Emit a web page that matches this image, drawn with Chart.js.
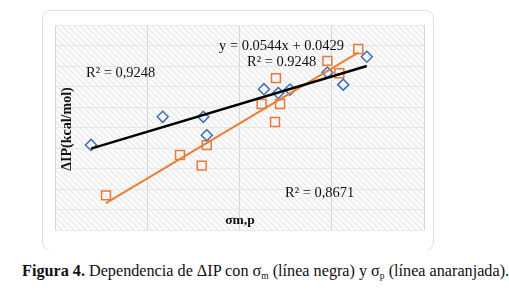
<!DOCTYPE html>
<html>
<head>
<meta charset="utf-8">
<script src="https://cdn.jsdelivr.net/npm/chart.js@4.4.1/dist/chart.umd.min.js"></script>
<style>
  body { margin: 0; background: #fff; width: 509px; height: 292px; overflow: hidden; position: relative; }
  #wrap { position: absolute; left: 0; top: 0; width: 509px; height: 250px; }
  #caption { position: absolute; left: 22px; top: 262px; font-family: "Liberation Serif", "DejaVu Serif", serif; font-size: 16.2px; color: #111; white-space: nowrap; }
  #caption sub { font-size: 9.5px; vertical-align: -3px; }
</style>
</head>
<body>
<div id="wrap"><canvas id="chartOne"></canvas></div>
<div id="caption"><b>Figura 4.</b> Dependencia de ΔIP con σ<sub>m</sub> (línea negra) y σ<sub>p</sub> (línea anaranjada).</div>
<script>
// sigma m (rombos azules)
let sigmaM = [-0.244, 0.067, 0.243, 0.258, 0.506, 0.568, 0.619, 0.781, 0.850, 0.952];
let ipM = [4.15, 5.52, 5.52, 4.62, 6.87, 6.68, 6.85, 7.68, 7.09, 8.45];
// sigma p (cuadrados naranjas)
let sigmaP = [-0.179, 0.142, 0.236, 0.258, 0.496, 0.554, 0.558, 0.576, 0.781, 0.833, 0.915];
let ipP = [1.69, 3.66, 3.14, 4.14, 6.15, 5.27, 7.41, 6.15, 8.25, 7.65, 8.83];

let textos = ['y = 0.0544x + 0.0429', 'R² = 0.9248', 'R² = 0,9248', 'R² = 0,8671'];
let tituloX = 'σm,p';
let tituloY = 'ΔIP(kcal/mol)';

function puntos(xs, ys) {
    return xs.map((x, i) => ({x: x, y: ys[i]}));
}

// linea de tendencia (minimos cuadrados), de x minimo a x maximo
function tendencia(xs, ys) {
    let n = xs.length;
    let mx = xs.reduce((a, b) => a + b, 0) / n;
    let my = ys.reduce((a, b) => a + b, 0) / n;
    let sxy = 0, sxx = 0;
    xs.forEach((x, i) => { sxy += (x - mx) * (ys[i] - my); sxx += (x - mx) * (x - mx); });
    let m = sxy / sxx;
    let b = my - m * mx;
    let x0 = Math.min(...xs), x1 = Math.max(...xs);
    return [{x: x0, y: m * x0 + b}, {x: x1, y: m * x1 + b}];
}

// fondo rayado del area
let pc = document.createElement('canvas');
pc.width = 6; pc.height = 6;
let pctx = pc.getContext('2d');
pctx.fillStyle = '#fbfbfb';
pctx.fillRect(0, 0, 6, 6);
pctx.strokeStyle = '#e9e9e9';
pctx.lineWidth = 1.2;
pctx.beginPath();
pctx.moveTo(0, 0); pctx.lineTo(6, 6);
pctx.moveTo(-3, 3); pctx.lineTo(3, 9);
pctx.moveTo(3, -3); pctx.lineTo(9, 3);
pctx.stroke();

const fondo = {
    id: 'fondo',
    beforeDraw(chart) {
        const c = chart.ctx;
        const a = chart.chartArea;
        c.save();
        c.strokeStyle = '#dedede';
        c.lineWidth = 1;
        c.beginPath();
        c.roundRect(42.5, 10.5, 391, 240, 8);
        c.stroke();
        c.fillStyle = c.createPattern(pc, 'repeat');
        c.fillRect(a.left, a.top, a.right - a.left, a.bottom - a.top);
        c.restore();
    }
};

const rotulos = {
    id: 'rotulos',
    afterDraw(chart) {
        const c = chart.ctx;
        c.save();
        c.fillStyle = '#111';
        c.textBaseline = 'middle';
        c.font = '14.5px "Liberation Serif", serif';
        c.textAlign = 'left';
        c.fillText(textos[0], 219, 46);
        c.fillText(textos[1], 247, 62);
        c.fillText(textos[2], 86, 73);
        c.fillText(textos[3], 285, 193);
        c.font = 'bold 13.5px "Liberation Serif", serif';
        c.textAlign = 'center';
        c.fillText(tituloX, 240, 221);
        c.font = 'bold 14px "Liberation Serif", serif';
        c.translate(67, 129);
        c.rotate(-Math.PI / 2);
        c.fillText(tituloY, 0, 0);
        c.restore();
    }
};

var ctx = document.getElementById('chartOne').getContext('2d');
var chartOne = new Chart(ctx, {
    type: 'scatter',
    data: {
        datasets: [{
            label: 'tendencia m',
            data: tendencia(sigmaM, ipM),
            showLine: true,
            borderColor: '#000000',
            borderWidth: 2.5,
            pointRadius: 0
        }, {
            label: 'tendencia p',
            data: tendencia(sigmaP, ipP),
            showLine: true,
            borderColor: '#ED7D31',
            borderWidth: 2,
            pointRadius: 0
        }, {
            label: 'sigma m',
            data: puntos(sigmaM, ipM),
            pointStyle: 'rectRot',
            pointRadius: 5.5,
            pointBorderWidth: 1.5,
            borderColor: '#3E6FB8',
            backgroundColor: 'rgba(0,0,0,0)'
        }, {
            label: 'sigma p',
            data: puntos(sigmaP, ipP),
            pointStyle: 'rect',
            pointRadius: 6.3,
            pointBorderWidth: 1.5,
            borderColor: '#E8793A',
            backgroundColor: 'rgba(0,0,0,0)'
        }]
    },
    options: {
        responsive: true,
        maintainAspectRatio: false,
        animation: false,
        layout: { padding: { left: 55, right: 85, top: 25, bottom: 20 } },
        plugins: { legend: { display: false }, tooltip: { enabled: false } },
        scales: {
            x: {
                min: -0.4, max: 1.2,
                ticks: { display: false, stepSize: 0.4 },
                grid: { color: '#d6d6d6', drawTicks: false },
                border: { display: false }
            },
            y: {
                min: 0, max: 10,
                ticks: { display: false, stepSize: 1 },
                grid: { color: '#e8e8e8', drawTicks: false },
                border: { display: false }
            }
        }
    },
    plugins: [fondo, rotulos]
});
</script>
</body>
</html>
